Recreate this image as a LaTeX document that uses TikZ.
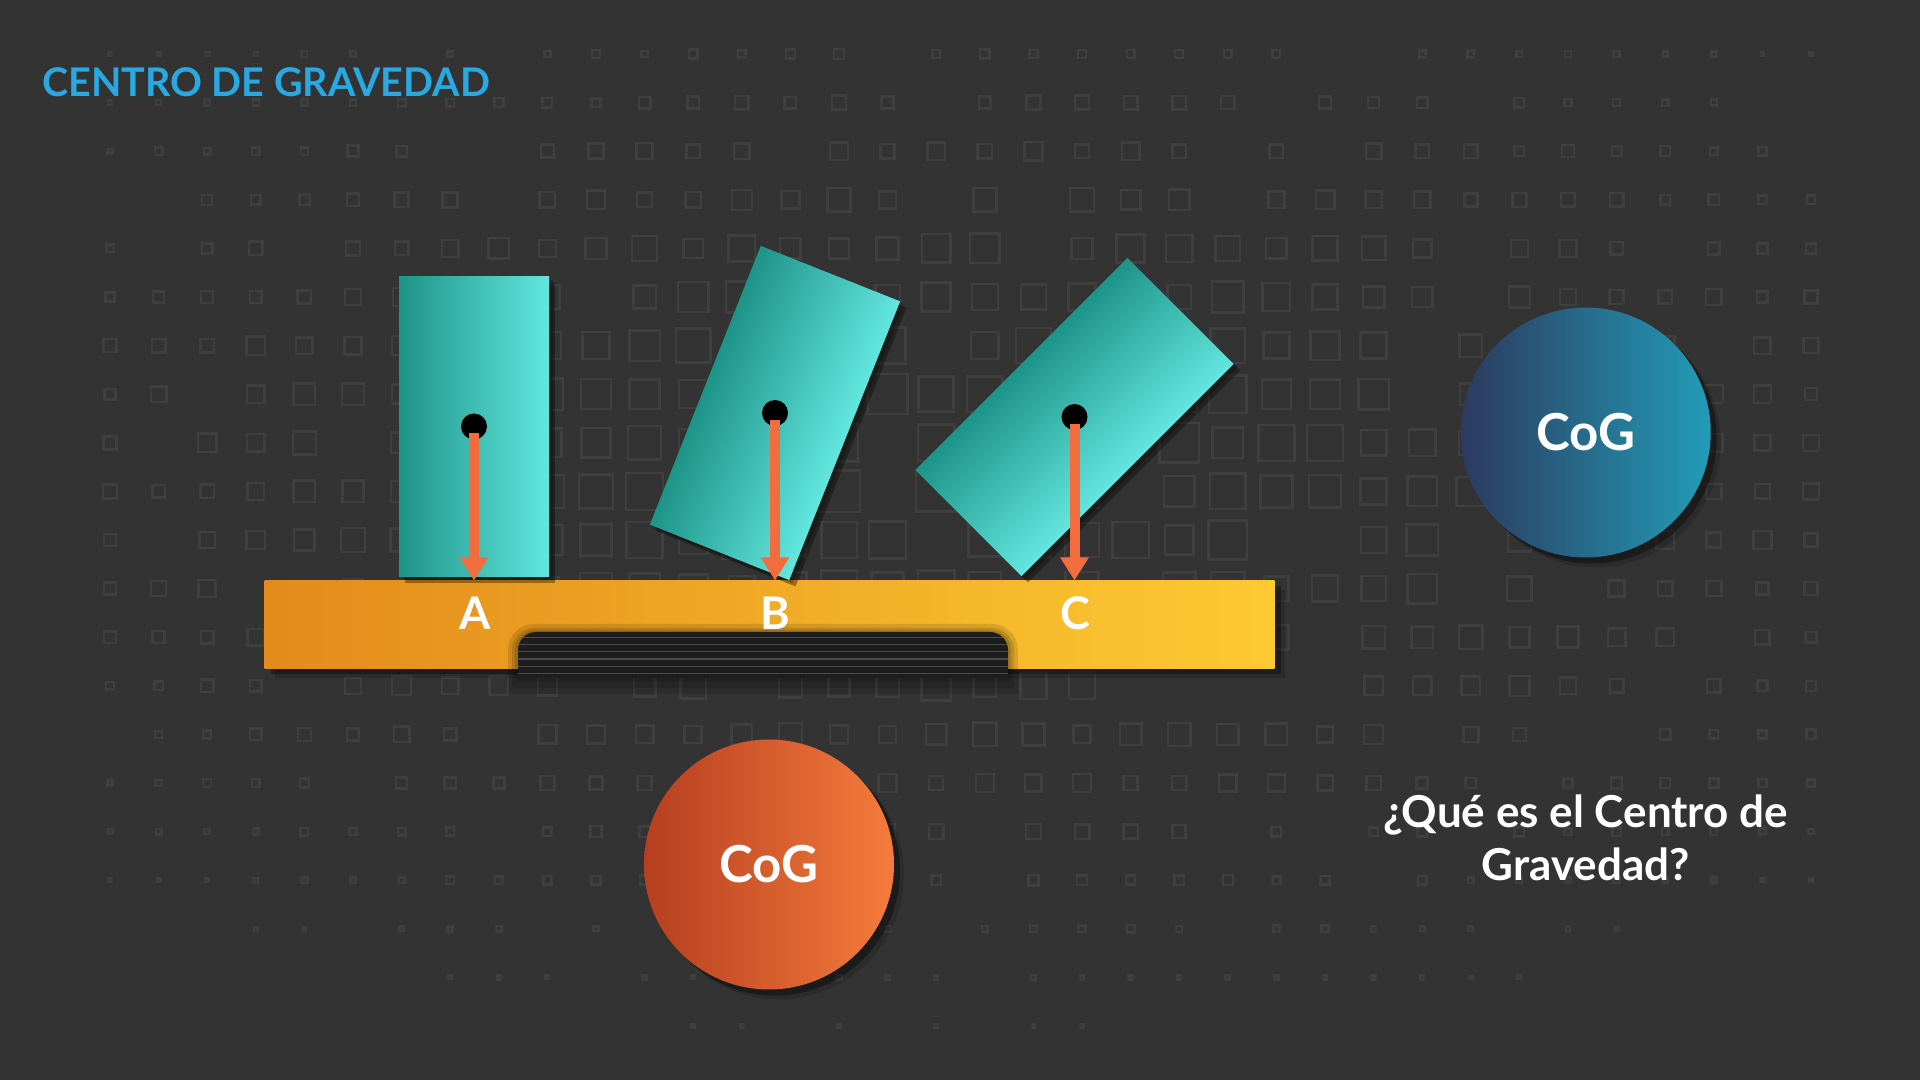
\documentclass[tikz,border=0pt]{standalone}
\usepackage{fontspec}
\setmainfont{Lato}
\usetikzlibrary{arrows.meta,calc,shadows}
\definecolor{CGBack}{HTML}{333333}
\definecolor{CGGrid}{HTML}{3F3F3F}
\definecolor{CGTitle}{HTML}{29A9E1}
\definecolor{CGTealDark}{HTML}{1E9488}
\definecolor{CGTealLight}{HTML}{62E6DE}
\definecolor{CGBarLeft}{HTML}{E38B1B}
\definecolor{CGBarRight}{HTML}{FDCA32}
\definecolor{CGPad}{HTML}{1D1D1D}
\definecolor{CGPadLine}{HTML}{4A4A4A}
\definecolor{CGArrow}{HTML}{F26D3D}
\definecolor{CGNavy}{HTML}{2C3A5E}
\definecolor{CGCyan}{HTML}{229CB8}
\definecolor{CGRust}{HTML}{B53F1F}
\definecolor{CGOrange}{HTML}{F57B3C}
\tikzset{
  softshadow/.style={
    drop shadow={shadow xshift=10pt,shadow yshift=-10pt,opacity=.15,fill=black},
    drop shadow={shadow xshift=6pt,shadow yshift=-6pt,opacity=.35,fill=black}
  },
  block/.style={left color=CGTealDark,right color=CGTealLight},
  blockshadow/.style={fill=black,opacity=.35},
  padglow/.style={fill=black,opacity=.12},
  bar/.style={
    rectangle,inner sep=0pt,outer sep=0pt,
    left color=CGBarLeft,right color=CGBarRight,softshadow
  },
  cogdot/.style={circle,fill=black,minimum size=26pt,inner sep=0pt},
  gravity/.style={draw=CGArrow,line width=10pt,shorten <=7pt,
    -{Triangle[width=27pt,length=23pt]}},
  footlabel/.style={anchor=base,inner sep=0pt,text=white,
    font=\fontsize{45}{54}\selectfont\bfseries},
  cogcircle/.style={circle,minimum size=250pt,inner sep=0pt,text=white,
    font=\fontsize{51}{60}\selectfont\bfseries,softshadow},
  question/.style={align=center,inner sep=0pt,text=white,
    font=\fontsize{44}{53.5}\selectfont\bfseries}
}

\begin{document}
\begin{tikzpicture}[x=1pt,y=1pt]
  \useasboundingbox (0,0) rectangle (1920,1080);
  \fill[CGBack] (0,0) rectangle (1920,1080);

  % faint square field behind everything
  \pgfmathsetseed{12}
  \foreach \i in {0,...,35}
    \foreach \j in {0,...,20} {
      \pgfmathsetmacro{\gx}{110+48.6*\i}
      \pgfmathsetmacro{\gy}{1026-48.6*\j}
      \pgfmathsetmacro{\gs}{44*exp(-((\gx-980)/850)^2-((\gy-610)/350)^2)*(0.7+0.3*rnd)*(rnd>0.15)}
      \ifdim\gs pt>3pt
        \draw[CGGrid,line width=2.5pt] (\gx-\gs/2,\gy-\gs/2) rectangle ++(\gs,\gs);
      \fi
    }

  \node[anchor=base west,inner sep=0pt,text=CGTitle,
    font=\fontsize{39.5}{48}\selectfont\bfseries] (title) at (42,983) {CENTRO DE GRAVEDAD};

  % the board and the black pad under it
  \node[bar,minimum width=1010pt,minimum height=88pt] (bar) at (769.6,455.5) {};
  \fill[padglow] (508,386) -- (508,430) arc(180:90:26) -- (992,456) arc(90:0:26) -- (1018,386) -- cycle;
  \fill[padglow] (512,392) -- (512,430) arc(180:90:22) -- (992,452) arc(90:0:22) -- (1014,392) -- cycle;
  \fill[padglow] (515,398) -- (515,430) arc(180:90:20) -- (991,450) arc(90:0:20) -- (1011,398) -- cycle;
  \fill[CGPad] (518,403) -- (518,430) arc(180:90:18) -- (990,448) arc(90:0:18) -- (1008,403) -- cycle;
  \begin{scope}
    \clip (518,403) -- (518,430) arc(180:90:18) -- (990,448) arc(90:0:18) -- (1008,403) -- cycle;
    \foreach \ly in {442.7,435.7,428.3,421,413.3,406.3}
      \draw[CGPadLine,line width=1.2pt] (518,\ly) -- (1008,\ly);
  \end{scope}

  % three blocks: upright, tilted, tipped
  \foreach \cx/\cy/\rot in {474/653.5/0,775/667/-21.7,1074.5/663/-45} {
    \begin{scope}[transform canvas={shift={(\cx,\cy)},rotate=\rot}]
      \fill[blockshadow,shift={({-45-\rot}:9)}] (-75,-150) rectangle (75,150);
      \fill[blockshadow,opacity=.2,shift={({-45-\rot}:5)}] (-75,-150) rectangle (75,150);
      \shade[block] (-75,-150) rectangle (75,150);
    \end{scope}
  }

  \node[cogdot] (dotA) at (474,653.5) {};
  \node[cogdot] (dotB) at (775,667) {};
  \node[cogdot] (dotC) at (1074.5,663) {};

  \draw[gravity] (dotA.center) -- (dotA |- bar.north);
  \draw[gravity] (dotB.center) -- (dotB |- bar.north);
  \draw[gravity] (dotC.center) -- (dotC |- bar.north);

  \node[footlabel] (labA) at (475,450.7) {A};
  \node[footlabel] (labB) at (775,450.7) {B};
  \node[footlabel] (labC) at (1075,450.7) {C};

  \node[cogcircle,left color=CGNavy,right color=CGCyan] (cogBlue) at (1585.7,647.5) {CoG};
  \node[cogcircle,left color=CGRust,right color=CGOrange] (cogOrange) at (769,215.5) {CoG};

  \node[question] (ask) at (1585.5,242.4) {¿Qué es el Centro de\\Gravedad?};
\end{tikzpicture}
\end{document}
